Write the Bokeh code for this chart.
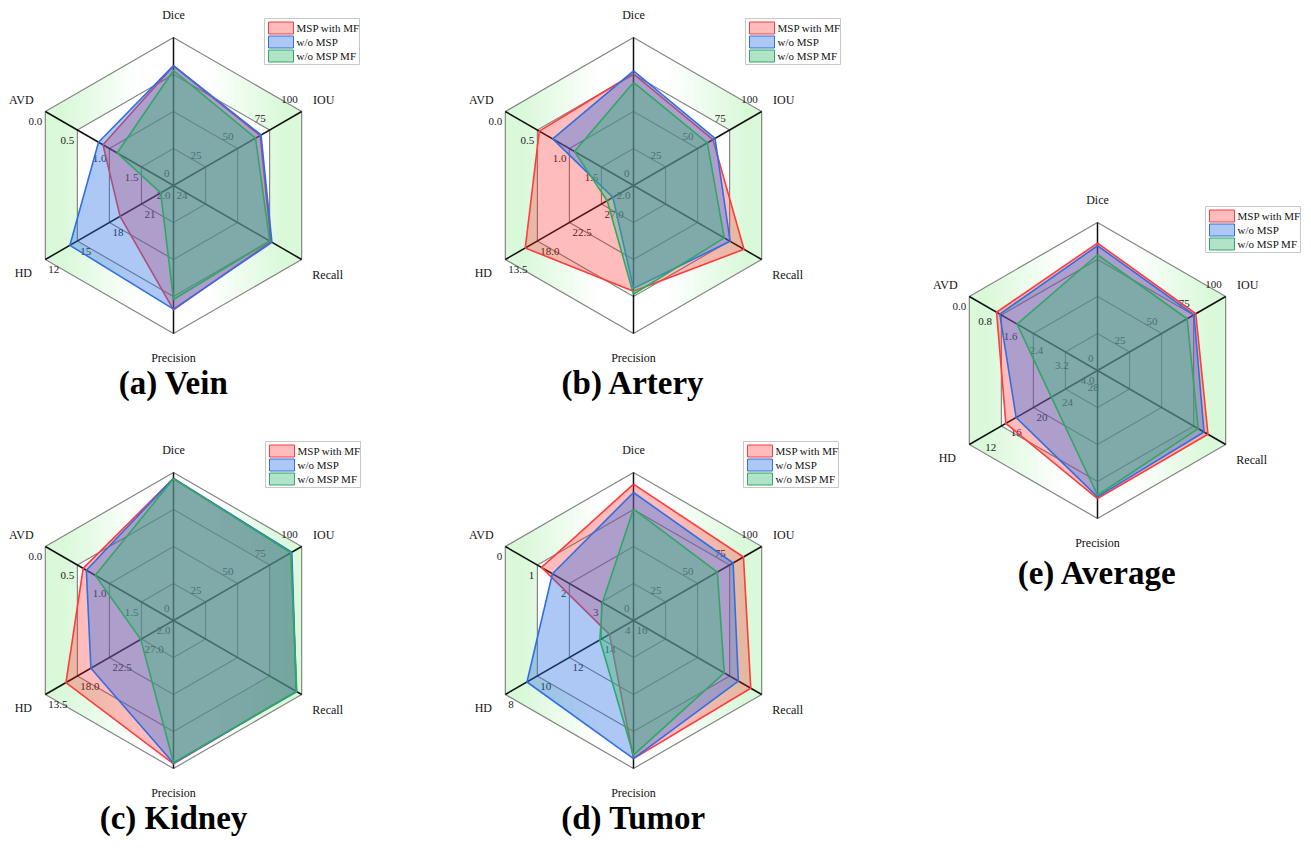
import numpy as np
from bokeh.plotting import figure
from bokeh.embed import file_html
from bokeh.resources import INLINE
from bokeh.core.properties import value

# ---------------- data ----------------
metrics = ["Dice", "IOU", "Recall", "Precision", "HD", "AVD"]
series_names = ["MSP with MF", "w/o MSP", "w/o MSP MF"]

# values: Dice, IOU, Recall, Precision (%), HD, AVD
vein_msp_mf = [80.8, 67.6, 76.0, 84.0, 19.0, 0.90]
vein_wo_msp = [81.0, 68.3, 76.8, 83.5, 14.3, 0.83]
vein_wo_msp_mf = [77.7, 64.0, 75.0, 77.0, 22.8, 1.12]

artery_msp_mf = [75.5, 62.0, 86.2, 71.5, 16.3, 0.53]
artery_wo_msp = [77.5, 63.6, 75.4, 69.5, 28.6, 0.74]
artery_wo_msp_mf = [69.6, 57.6, 70.8, 73.5, 27.8, 1.08]

kidney_msp_mf = [96.0, 91.8, 95.8, 96.8, 16.4, 0.59]
kidney_wo_msp = [96.0, 92.3, 95.8, 96.5, 19.9, 0.64]
kidney_wo_msp_mf = [95.8, 91.5, 96.2, 96.0, 26.9, 0.78]

tumor_msp_mf = [92.1, 85.8, 91.5, 93.3, 14.5, 1.13]
tumor_wo_msp = [86.5, 77.7, 81.8, 93.3, 9.35, 1.47]
tumor_wo_msp_mf = [75.3, 65.4, 70.8, 91.0, 13.9, 3.03]

avg_msp_mf = [86.1, 76.7, 86.2, 86.5, 15.7, 0.85]
avg_wo_msp = [84.3, 75.3, 83.1, 85.4, 17.3, 0.95]
avg_wo_msp_mf = [78.2, 69.9, 78.6, 84.3, 22.8, 1.49]

# axis scales (value at centre, value at outer ring) and tick labels
pct_ticks = [0, 25, 50, 75, 100]
pct_labels = ["0", "25", "50", "75", "100"]

vein_hd_range = (24, 12)
vein_hd_ticks = [24, 21, 18, 15, 12]
vein_hd_labels = ["24", "21", "18", "15", "12"]
vein_avd_range = (2.0, 0.0)
vein_avd_ticks = [2.0, 1.5, 1.0, 0.5, 0.0]
vein_avd_labels = ["2.0", "1.5", "1.0", "0.5", "0.0"]

artery_hd_range = (31.5, 13.5)
artery_hd_ticks = [27.0, 22.5, 18.0, 13.5]
artery_hd_labels = ["27.0", "22.5", "18.0", "13.5"]
artery_avd_range = (2.0, 0.0)
artery_avd_ticks = [2.0, 1.5, 1.0, 0.5, 0.0]
artery_avd_labels = ["2.0", "1.5", "1.0", "0.5", "0.0"]

kidney_hd_range = (31.5, 13.5)
kidney_hd_ticks = [27.0, 22.5, 18.0, 13.5]
kidney_hd_labels = ["27.0", "22.5", "18.0", "13.5"]
kidney_avd_range = (2.0, 0.0)
kidney_avd_ticks = [2.0, 1.5, 1.0, 0.5, 0.0]
kidney_avd_labels = ["2.0", "1.5", "1.0", "0.5", "0.0"]

tumor_hd_range = (16, 8)
tumor_hd_ticks = [16, 14, 12, 10, 8]
tumor_hd_labels = ["16", "14", "12", "10", "8"]
tumor_avd_range = (4, 0)
tumor_avd_ticks = [4, 3, 2, 1, 0]
tumor_avd_labels = ["4", "3", "2", "1", "0"]

avg_hd_range = (30, 10)
avg_hd_ticks = [28, 24, 20, 16, 12]
avg_hd_labels = ["28", "24", "20", "16", "12"]
avg_avd_range = (4.0, 0.0)
avg_avd_ticks = [4.0, 3.2, 2.4, 1.6, 0.8, 0.0]
avg_avd_labels = ["4.0", "3.2", "2.4", "1.6", "0.8", "0.0"]

# ---------------- styling ----------------
SERIF = value("Liberation Serif")
line_colors = ["#ff3b3b", "#2f6fe6", "#2fa864"]
fill_colors = ["#ff2020", "#2a6ee6", "#3cb878"]
fill_alphas = [0.30, 0.38, 0.40]
R = 148.0
ANG = np.radians([90, 30, -30, -90, 210, 150])

W_PX, H_PX = 1305, 845
p = figure(width=W_PX, height=H_PX, x_range=(0, W_PX), y_range=(-H_PX, 0),
           output_backend="svg", toolbar_location=None, min_border=0)
p.axis.visible = False
p.grid.visible = False
p.outline_line_color = None
p.background_fill_color = "white"
p.border_fill_color = "white"

panels = [
    dict(title="(a) Vein", c=(173, 185), series=[vein_msp_mf, vein_wo_msp, vein_wo_msp_mf],
         hd=vein_hd_range, hdt=vein_hd_ticks, hdl=vein_hd_labels,
         avd=vein_avd_range, avdt=vein_avd_ticks, avdl=vein_avd_labels, leg=(264, 18), ty=382),
    dict(title="(b) Artery", c=(633, 185), series=[artery_msp_mf, artery_wo_msp, artery_wo_msp_mf],
         hd=artery_hd_range, hdt=artery_hd_ticks, hdl=artery_hd_labels,
         avd=artery_avd_range, avdt=artery_avd_ticks, avdl=artery_avd_labels, leg=(745, 18), ty=382),
    dict(title="(c) Kidney", c=(173, 620), series=[kidney_msp_mf, kidney_wo_msp, kidney_wo_msp_mf],
         hd=kidney_hd_range, hdt=kidney_hd_ticks, hdl=kidney_hd_labels,
         avd=kidney_avd_range, avdt=kidney_avd_ticks, avdl=kidney_avd_labels, leg=(265, 441), ty=817),
    dict(title="(d) Tumor", c=(633, 620), series=[tumor_msp_mf, tumor_wo_msp, tumor_wo_msp_mf],
         hd=tumor_hd_range, hdt=tumor_hd_ticks, hdl=tumor_hd_labels,
         avd=tumor_avd_range, avdt=tumor_avd_ticks, avdl=tumor_avd_labels, leg=(743, 441), ty=817),
    dict(title="(e) Average", c=(1097, 370), series=[avg_msp_mf, avg_wo_msp, avg_wo_msp_mf],
         hd=avg_hd_range, hdt=avg_hd_ticks, hdl=avg_hd_labels,
         avd=avg_avd_range, avdt=avg_avd_ticks, avdl=avg_avd_labels, leg=(1205, 206), ty=572),
]


def frac(vals, hd, avd):
    f = [v / 100.0 for v in vals[:4]]
    f.append((hd[0] - vals[4]) / (hd[0] - hd[1]))
    f.append((avd[0] - vals[5]) / (avd[0] - avd[1]))
    return np.array(f)


def hexagon(cx, cy, r):
    return list(cx + r * np.cos(ANG)), list(cy + r * np.sin(ANG))


for pn in panels:
    cx, cy = pn["c"][0], -pn["c"][1]
    Wd = R * np.cos(np.radians(30))
    tan30 = np.tan(np.radians(30))

    # gradient band (outer ring) as vertical strips
    xs, ys, cols = [], [], []
    n = 40
    edges = np.linspace(0, Wd, n + 1)
    for i in range(n):
        x0, x1 = edges[i], min(edges[i + 1] + 0.6, Wd)
        t = 0.5 * (x0 + x1) / Wd
        f = float(np.clip((t - 0.28) / 0.6, 0, 1))
        col = "#%02x%02x%02x" % (int(255 - 38 * f), int(255 - 6 * f), int(255 - 38 * f))
        top0, top1 = R - x0 * tan30, R - x1 * tan30
        for sgn in (1, -1):
            xs.append([cx + sgn * x0, cx + sgn * x1, cx + sgn * x1, cx + sgn * x0])
            ys.append([cy + top0, cy + top1, cy - top1, cy - top0])
            cols.append(col)
    p.patches(xs, ys, fill_color=cols, line_color=None)
    hx, hy = hexagon(cx, cy, 0.75 * R)
    p.patch(hx, hy, fill_color="white", line_color=None)

    # rings
    for k in (0.25, 0.5, 0.75, 1.0):
        hx, hy = hexagon(cx, cy, k * R)
        p.line(hx + [hx[0]], hy + [hy[0]], line_color="#858585", line_width=1.2)
    # spokes
    for a in ANG:
        p.line([cx, cx + R * np.cos(a)], [cy, cy + R * np.sin(a)], line_color="#111111", line_width=1.5)

    # tick labels (drawn under the filled areas)
    a_iou = ANG[1]
    tx = [cx + (t / 100.0) * R * np.cos(a_iou) - 4 for t in pct_ticks]
    ty = [cy + (t / 100.0) * R * np.sin(a_iou) + 12 for t in pct_ticks]
    p.text(tx, ty, text=pct_labels, text_font=SERIF, text_font_size="11px", text_color="#222222",
           text_align="right", text_baseline="middle")
    a_hd = ANG[4]
    hd0, hd1 = pn["hd"]
    fr = [(hd0 - t) / (hd0 - hd1) for t in pn["hdt"]]
    tx = [cx + q * R * np.cos(a_hd) + 3 for q in fr]
    ty = [cy + q * R * np.sin(a_hd) - 10 for q in fr]
    p.text(tx, ty, text=pn["hdl"], text_font=SERIF, text_font_size="11px", text_color="#222222",
           text_align="left", text_baseline="middle")
    a_avd = ANG[5]
    av0, av1 = pn["avd"]
    fr = [(av0 - t) / (av0 - av1) for t in pn["avdt"]]
    tx = [cx + q * R * np.cos(a_avd) - 3 for q in fr]
    ty = [cy + q * R * np.sin(a_avd) - 10 for q in fr]
    p.text(tx, ty, text=pn["avdl"], text_font=SERIF, text_font_size="11px", text_color="#222222",
           text_align="right", text_baseline="middle")

    # data polygons
    for s, vals in enumerate(pn["series"]):
        f = frac(vals, pn["hd"], pn["avd"])
        px = list(cx + f * R * np.cos(ANG))
        py = list(cy + f * R * np.sin(ANG))
        p.patch(px, py, fill_color=fill_colors[s], fill_alpha=fill_alphas[s], line_color=None)
        p.line(px + [px[0]], py + [py[0]], line_color=line_colors[s], line_width=1.6)

    # metric labels
    lx = [cx, cx + R * np.cos(ANG[1]) + 22, cx + R * np.cos(ANG[2]) + 26, cx,
          cx + R * np.cos(ANG[4]) - 22, cx + R * np.cos(ANG[5]) - 24]
    ly = [cy + R + 23, cy + R * np.sin(ANG[1]) + 12, cy + R * np.sin(ANG[2]) - 15, cy - R - 24,
          cy + R * np.sin(ANG[4]) - 13, cy + R * np.sin(ANG[5]) + 12]
    p.text(lx, ly, text=metrics, text_font=SERIF, text_font_size="12px", text_color="#111111",
           text_align="center", text_baseline="middle")

    # legend
    lgx, lgy = pn["leg"][0], -pn["leg"][1]
    p.quad(left=[lgx], right=[lgx + 95], top=[lgy], bottom=[lgy - 46], fill_color="white",
           line_color="#c8c8c8", line_width=1)
    for s, name in enumerate(series_names):
        yc = lgy - 9.5 - 14 * s
        p.quad(left=[lgx + 4], right=[lgx + 29], top=[yc + 6], bottom=[yc - 6],
               fill_color=fill_colors[s], fill_alpha=fill_alphas[s], line_color=line_colors[s], line_width=1)
        p.text([lgx + 32], [yc], text=[name], text_font=SERIF, text_font_size="11px",
               text_color="#111111", text_align="left", text_baseline="middle")

    # title
    p.text([pn["c"][0]], [-pn["ty"]], text=[pn["title"]], text_font=SERIF, text_font_size="33px",
           text_font_style="bold", text_color="#000000", text_align="center", text_baseline="middle")

open("out.html", "w").write(file_html(p, INLINE))
